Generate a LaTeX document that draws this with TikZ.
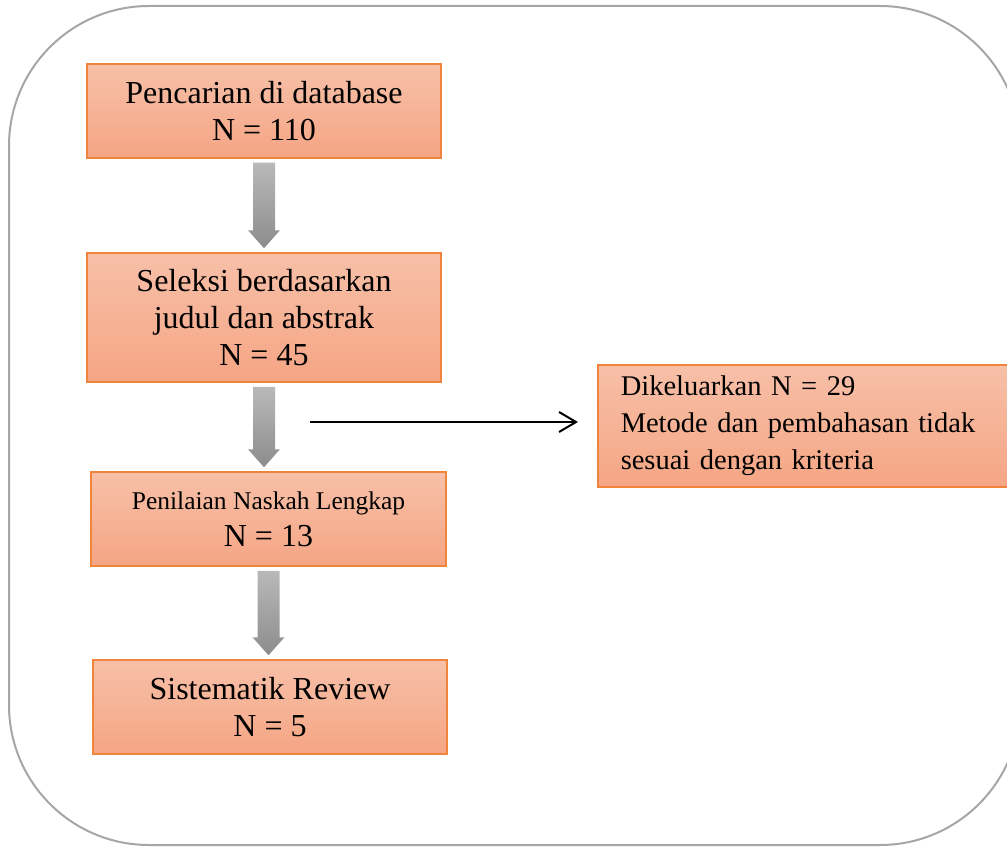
\documentclass[tikz,border=0pt]{standalone}
\usepackage{fontspec}
\setmainfont{Liberation Serif}
\usetikzlibrary{arrows.meta,calc}
\definecolor{boxtop}{RGB}{247,192,168}
\definecolor{boxbot}{RGB}{245,165,132}
\definecolor{boxline}{RGB}{240,132,58}
\begin{document}
\begin{tikzpicture}[x=1pt, y=-1pt, every node/.style={font=\fontsize{32}{37}\selectfont},
	proc/.style={draw=boxline, line width=1.5pt, top color=boxtop, bottom color=boxbot, align=center, minimum width=354, minimum height=94, inner sep=0pt},
	fatarrow/.style={top color=gray!55, bottom color=gray!90, draw=none}]
	\path[use as bounding box, clip] (0,0) rectangle (1007,848);
	\draw[gray!70, line width=2pt, rounded corners=140] (9,6) rectangle (1020,845);
	\node[proc] (src) at (264,111) {Pencarian di database\\N = 110};
	\node[proc, minimum height=129] (sel) at (264,317.5) {Seleksi berdasarkan\\judul dan abstrak\\N = 45};
	\node[proc, minimum width=355] (nask) at (268.5,519) {{\fontsize{25.5}{30}\selectfont Penilaian Naskah Lengkap}\\N = 13};
	\node[proc] (rev) at (270,707) {Sistematik Review\\N = 5};
	\node[proc, anchor=west, minimum width=430, minimum height=122, text width=384, inner xsep=23pt, align=left, font=\fontsize{28.5}{37}\selectfont] (excl) at (597,426) {Dikeluarkan N = 29\\Metode dan pembahasan tidak\\sesuai dengan kriteria};
	\foreach \a/\b in {src/sel, sel/nask, nask/rev} {
		\shade[fatarrow] ([xshift=-11pt,yshift=-4pt]\a.south) -- ([xshift=11pt,yshift=-4pt]\a.south) -- ([xshift=11pt,yshift=22pt]\b.north -| \a.south) -- ([xshift=16pt,yshift=22pt]\b.north -| \a.south) -- ([yshift=4pt]\b.north -| \a.south) -- ([xshift=-16pt,yshift=22pt]\b.north -| \a.south) -- ([xshift=-11pt,yshift=22pt]\b.north -| \a.south) -- cycle;
	}
	\coordinate (cut) at (310,422);
	\draw[line width=1.5pt, -{Straight Barb[length=17pt, width=20pt, line width=2pt]}, shorten >=19pt] (cut) -- (cut -| excl.west);
\end{tikzpicture}
\end{document}
